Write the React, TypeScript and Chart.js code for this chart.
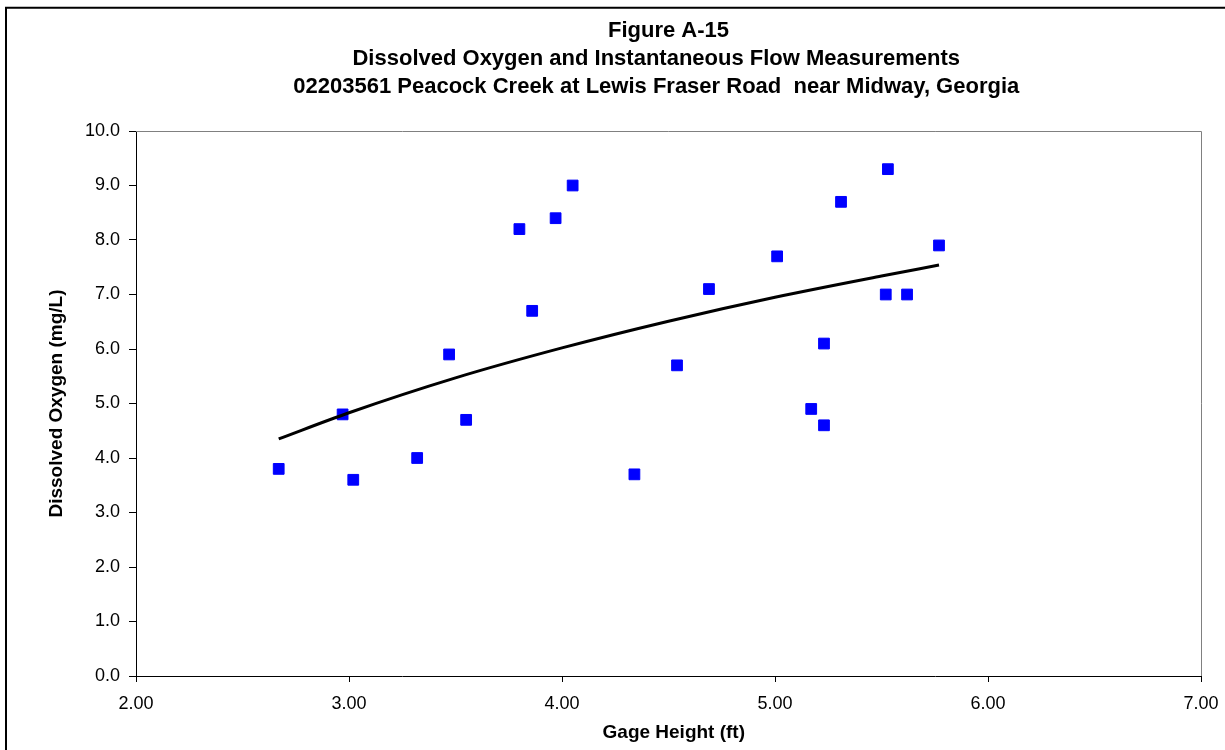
import React, { useEffect, useRef } from "react";
import { Chart, registerables } from "chart.js";

Chart.register(...registerables);

const titleLines = [
  "Figure A-15",
  "Dissolved Oxygen and Instantaneous Flow Measurements    ",
  "02203561 Peacock Creek at Lewis Fraser Road  near Midway, Georgia    ",
];
const xAxisTitle = "  Gage Height (ft)";
const yAxisTitle = "Dissolved Oxygen (mg/L)";

const gageHeight = [2.67, 2.97, 3.02, 3.32, 3.47, 3.55, 3.8, 3.86, 3.97, 4.05, 4.34, 4.54, 4.69, 5.01, 5.17, 5.23, 5.23, 5.31, 5.52, 5.53, 5.62, 5.77];
const dissolvedOxygen = [3.8, 4.8, 3.6, 4.0, 5.9, 4.7, 8.2, 6.7, 8.4, 9.0, 3.7, 5.7, 7.1, 7.7, 4.9, 6.1, 4.6, 8.7, 7.0, 9.3, 7.0, 7.9];

const trendX = [2.67, 3.0, 3.5, 4.0, 4.5, 5.0, 5.5, 5.77];
const trendY = [4.35, 4.83, 5.47, 6.02, 6.51, 6.95, 7.34, 7.54];

const FONT = "'Liberation Sans', Arial, Helvetica, sans-serif";

const framePlugin = {
  id: "frame",
  beforeDatasetsDraw(chart: any) {
    const { ctx, chartArea } = chart;
    ctx.save();
    ctx.strokeStyle = "#808080";
    ctx.lineWidth = 1;
    ctx.beginPath();
    ctx.moveTo(chartArea.left, chartArea.top + 0.5);
    ctx.lineTo(chartArea.right + 0.5, chartArea.top + 0.5);
    ctx.lineTo(chartArea.right + 0.5, chartArea.bottom);
    ctx.stroke();
    ctx.restore();
  },
  afterDraw(chart: any) {
    const { ctx } = chart;
    ctx.save();
    ctx.strokeStyle = "#000";
    ctx.lineWidth = 2;
    ctx.beginPath();
    ctx.moveTo(6, chart.height + 2);
    ctx.lineTo(6, 7.7);
    ctx.lineTo(chart.width + 2, 7.7);
    ctx.stroke();
    ctx.restore();
  },
};

export default function App() {
  const ref = useRef<HTMLCanvasElement | null>(null);
  useEffect(() => {
    if (!ref.current) return;
    const chart = new Chart(ref.current, {
      type: "scatter",
      data: {
        datasets: [
          {
            type: "line",
            label: "Trend",
            data: trendX.map((x, i) => ({ x, y: trendY[i] })),
            borderColor: "#000",
            borderWidth: 3,
            pointRadius: 0,
            tension: 0.4,
            cubicInterpolationMode: "monotone",
            fill: false,
          } as any,
          {
            label: "DO",
            data: gageHeight.map((x, i) => ({ x, y: dissolvedOxygen[i] })),
            backgroundColor: "#0000FF",
            borderColor: "#0000FF",
            borderWidth: 1,
            pointStyle: "rect",
            pointRadius: 7.6,
            pointHoverRadius: 7.6,
          },
        ],
      },
      options: {
        responsive: false,
        animation: false,
        layout: { padding: { top: 0, left: 0, right: 24, bottom: 0 } },
        plugins: {
          legend: { display: false },
          tooltip: { enabled: false },
          title: {
            display: true,
            fullSize: false,
            text: titleLines,
            color: "#000",
            font: { family: FONT, size: 22, weight: "bold", lineHeight: 28 / 22 },
            padding: { top: 17, bottom: 30 },
          },
        },
        scales: {
          x: {
            type: "linear",
            min: 2,
            max: 7,
            afterFit(scale: any) {
              scale.height = 74;
              scale.paddingLeft = 0;
              scale.paddingRight = 0;
            },
            ticks: {
              stepSize: 1,
              color: "#000",
              padding: 11,
              font: { family: FONT, size: 18 },
              callback: (v: any) => Number(v).toFixed(2),
            },
            grid: { drawOnChartArea: false, drawTicks: true, tickLength: 6, color: "#000" },
            border: { display: true, color: "#000", width: 1 },
            title: {
              display: true,
              text: xAxisTitle,
              color: "#000",
              font: { family: FONT, size: 19, weight: "bold" },
              padding: { top: 0, bottom: 5.6 },
            },
          },
          y: {
            type: "linear",
            min: 0,
            max: 10,
            afterFit(scale: any) {
              scale.width = 136;
              scale.paddingTop = 0;
              scale.paddingBottom = 0;
            },
            ticks: {
              stepSize: 1,
              color: "#000",
              padding: 9,
              font: { family: FONT, size: 18 },
              callback: (v: any) => Number(v).toFixed(1),
            },
            grid: { drawOnChartArea: false, drawTicks: true, tickLength: 7, color: "#000" },
            border: { display: true, color: "#000", width: 1 },
            title: {
              display: true,
              text: yAxisTitle,
              color: "#000",
              font: { family: FONT, size: 19, weight: "bold" },
              padding: { top: 45.6, bottom: 0 },
            },
          },
        },
      },
      plugins: [framePlugin],
    });
    return () => chart.destroy();
  }, []);
  return (
    <div style={{ position: "fixed", left: 0, top: 0, width: 1225, height: 750, background: "#fff" }}>
      <canvas ref={ref} width={1225} height={750} style={{ display: "block" }} />
    </div>
  );
}
